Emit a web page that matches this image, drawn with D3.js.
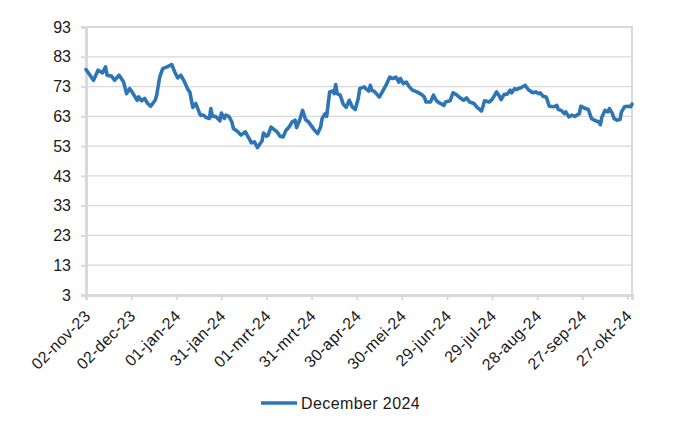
<!DOCTYPE html>
<html>
<head>
<meta charset="utf-8">
<script src="https://cdn.jsdelivr.net/npm/d3@7"></script>
<style>
  html, body { margin: 0; padding: 0; background: #ffffff; }
  svg { display: block; font-family: "Liberation Sans", Arial, sans-serif; }
</style>
</head>
<body>
<svg id="chart" width="700" height="431"></svg>
<script>
// ---- data ----
const seriesName = "December 2024";
const startDateStr = "2023-11-02";
// days since 02-nov-23
const dayOffsets = [
  0,5,8,11,13,14,17,19,22,25,27,29,31,34,35,37,39,41,43,46,47,49,51,54,57,59,61,
  63,65,68,69,71,73,76,78,80,82,83,84,86,87,89,90,92,93,95,97,98,101,103,106,108,110,112,114,115,117,118,120,121,123,
  127,129,131,133,135,137,139,140,142,144,146,148,150,152,154,156,157,159,160,162,164,165,166,167,169,171,173,175,177,179,181,182,185,186,
  188,189,190,192,195,197,200,202,204,206,208,209,211,213,215,217,220,223,225,226,229,231,233,235,238,239,242,244,246,248,
  251,253,255,258,260,263,265,268,270,273,275,276,278,280,282,283,285,286,289,292,294,297,299,301,302,304,306,308,
  311,313,314,316,318,319,321,323,325,328,329,332,334,336,338,341,342,343,345,347,348,350,351,353,355,356,358,360,362,363
];
const values = [
  78.7,75.1,78.5,77.6,79.6,76.8,76.5,75.1,76.8,74.5,70.6,72.3,70.9,68.4,69.5,68.2,69.0,67.3,66.4,68.4,70.1,76.2,79.0,79.6,80.4,77.9,75.9,
  76.8,75.1,71.8,71.2,66.0,67.3,63.4,63.4,62.6,62.3,65.6,63.0,63.0,62.6,61.5,64.1,62.3,63.4,63.0,61.1,58.9,57.8,56.7,57.8,55.9,54.1,54.4,52.5,53.3,54.7,57.4,56.3,56.6,59.4,
  57.8,56.3,56.1,58.3,59.4,61.1,61.7,59.2,61.7,65.0,61.9,61.1,59.7,58.3,57.2,59.4,62.3,63.9,63.0,71.2,71.5,70.6,73.7,70.6,70.1,67.1,66.0,68.4,66.2,65.3,69.0,72.3,72.9,72.3,
  71.5,73.4,71.8,71.2,69.5,71.2,74.0,76.2,75.7,76.2,74.5,75.7,74.0,74.5,72.9,71.8,71.2,70.4,69.5,67.8,67.8,70.1,68.2,67.5,66.7,67.8,68.2,70.9,70.4,69.5,
  68.4,69.2,67.8,67.3,66.0,64.8,68.2,67.8,68.7,71.2,69.7,68.6,70.4,70.4,71.8,70.9,72.3,72.0,72.6,73.4,72.0,70.9,71.2,70.6,70.9,69.7,69.5,66.4,
  66.2,66.7,65.3,65.0,63.9,64.5,62.8,63.4,63.0,63.9,66.4,65.6,65.3,62.3,61.7,61.1,60.2,62.8,65.0,64.5,65.6,63.9,62.3,61.7,61.9,64.5,66.2,66.4,66.2,67.1
];
const yTicks = [3,13,23,33,43,53,63,73,83,93];
const xTickStepDays = 30;
const xTickCount = 13;
const domainDays = 363;
const dutchShortMonths = ["jan","feb","mrt","apr","mei","jun","jul","aug","sep","okt","nov","dec"];

// ---- layout ----
const plot = { left: 86, right: 632, top: 27, bottom: 295 };
const gridColor = "#d9d9d9";
const lineColor = "#2e75b6";
const textColor = "#1a1a1a";
const fontSize = "16px";
const letterSpacing = "0.4px";

const svg = d3.select("#chart");
const start = d3.timeParse("%Y-%m-%d")(startDateStr);
const data = dayOffsets.map((d, i) => ({ date: d3.timeDay.offset(start, d), value: values[i] }));

const x = d3.scaleTime()
  .domain([start, d3.timeDay.offset(start, domainDays)])
  .range([plot.left, plot.right]);
const y = d3.scaleLinear().domain([3, 93]).range([plot.bottom, plot.top]);

const locale = d3.timeFormatLocale({
  dateTime: "%a %e %B %Y %X", date: "%d-%m-%Y", time: "%H:%M:%S",
  periods: ["AM", "PM"],
  days: ["zondag","maandag","dinsdag","woensdag","donderdag","vrijdag","zaterdag"],
  shortDays: ["zo","ma","di","wo","do","vr","za"],
  months: ["januari","februari","maart","april","mei","juni","juli","augustus","september","oktober","november","december"],
  shortMonths: dutchShortMonths
});
const fmt = locale.format("%d-%b-%y");
const xTicks = d3.range(xTickCount).map(i => d3.timeDay.offset(start, i * xTickStepDays));

// gridlines
svg.append("g")
  .selectAll("line").data(yTicks.filter(t => t !== 3 && t !== 93)).join("line")
  .attr("x1", plot.left).attr("x2", plot.right)
  .attr("y1", d => y(d)).attr("y2", d => y(d))
  .attr("stroke", gridColor).attr("stroke-width", 1.3);

// top & right border
svg.append("path")
  .attr("d", `M${plot.left},${y(93)}H${plot.right}V${plot.bottom}`)
  .attr("fill", "none").attr("stroke", gridColor).attr("stroke-width", 2);

// y axis
const yAxis = svg.append("g")
  .attr("transform", `translate(${plot.left},0)`)
  .call(d3.axisLeft(y).tickValues(yTicks).tickSize(5).tickPadding(10).tickFormat(d3.format("d")));
yAxis.select(".domain").attr("stroke", gridColor).attr("stroke-width", 3);
yAxis.selectAll(".tick line").attr("stroke", gridColor).attr("stroke-width", 2);
yAxis.selectAll(".tick text")
  .attr("fill", textColor).style("font-size", fontSize)
  .style("font-family", "'Liberation Sans', Arial, sans-serif");

// x axis
const xAxis = svg.append("g")
  .attr("transform", `translate(0,${plot.bottom})`)
  .call(d3.axisBottom(x).tickValues(xTicks).tickSize(5).tickFormat(fmt));
xAxis.select(".domain").attr("stroke", gridColor).attr("stroke-width", 3);
xAxis.selectAll(".tick line").attr("stroke", gridColor).attr("stroke-width", 2);
xAxis.selectAll(".tick text")
  .attr("fill", textColor).style("font-size", fontSize)
  .style("letter-spacing", letterSpacing)
  .style("font-family", "'Liberation Sans', Arial, sans-serif")
  .attr("text-anchor", "end")
  .attr("y", 0).attr("dy", "0")
  .attr("transform", "translate(5,22) rotate(-45)");

// series line
svg.append("path")
  .datum(data)
  .attr("fill", "none")
  .attr("stroke", lineColor)
  .attr("stroke-width", 3.6)
  .attr("stroke-linejoin", "round")
  .attr("stroke-linecap", "round")
  .attr("d", d3.line().x(d => x(d.date)).y(d => y(d.value)));

// legend
const lg = svg.append("g").attr("transform", "translate(261,403)");
lg.append("line").attr("x1", 0).attr("x2", 36).attr("y1", 0).attr("y2", 0)
  .attr("stroke", lineColor).attr("stroke-width", 3.6);
lg.append("text").attr("x", 40).attr("y", 0).attr("dy", "0.36em")
  .attr("fill", textColor).style("font-size", fontSize)
  .style("letter-spacing", letterSpacing)
  .text(seriesName);
</script>
</body>
</html>
